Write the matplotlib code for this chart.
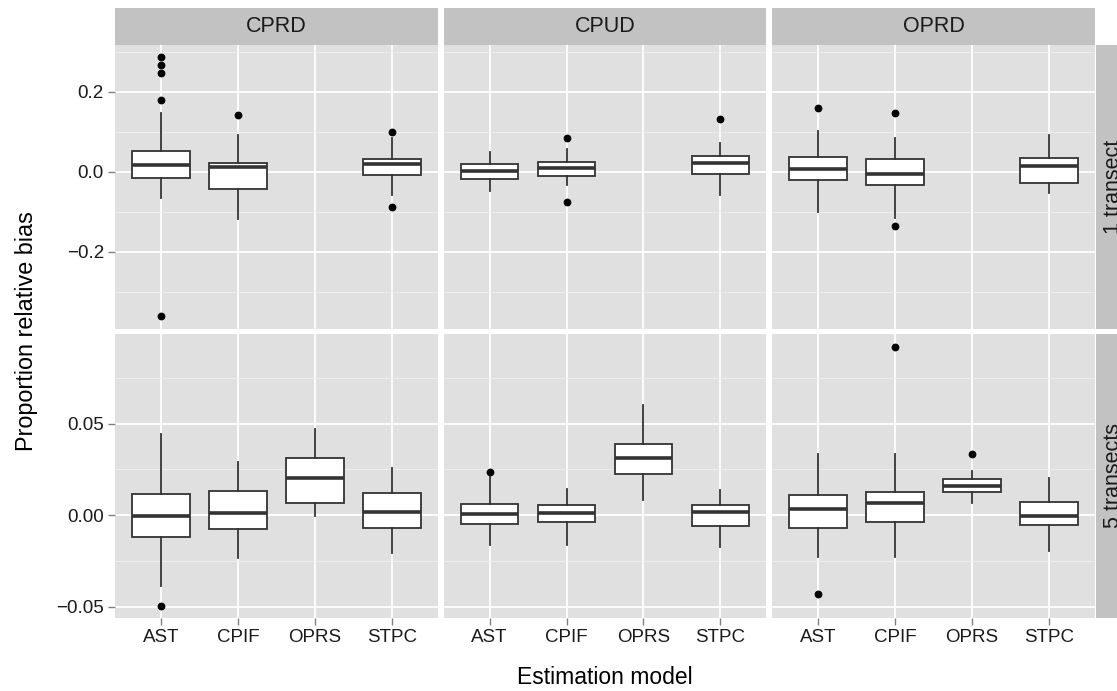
import matplotlib
matplotlib.use("Agg")
import matplotlib.pyplot as plt

plt.rcParams["font.family"] = ["Liberation Sans", "DejaVu Sans"]

MODELS = ["AST", "CPIF", "OPRS", "STPC"]
DESIGNS = ["CPRD", "CPUD", "OPRD"]
ROWS = ["1 transect", "5 transects"]

# 1 transect: one list per design (CPRD, CPUD, OPRD), one value per model; None = no box
q1_1t = [[-0.016, -0.043, None, -0.008], [-0.0175, -0.011, None, -0.006], [-0.020, -0.033, None, -0.027]]
med_1t = [[0.0175, 0.012, None, 0.019], [0.0033, 0.009, None, 0.0225], [0.0083, -0.004, None, 0.016]]
q3_1t = [[0.053, 0.0225, None, 0.033], [0.021, 0.026, None, 0.039], [0.038, 0.0325, None, 0.035]]
lo_1t = [[-0.064, -0.1175, None, -0.0575], [-0.0475, -0.033, None, -0.057], [-0.099, -0.116, None, -0.053]]
hi_1t = [[0.147, 0.0925, None, 0.085], [0.050, 0.058, None, 0.072], [0.103, 0.086, None, 0.092]]
out_1t = [
    [[0.287, 0.268, 0.248, 0.18, -0.359], [0.1425], [], [0.099, -0.0875]],
    [[], [0.084, -0.076], [], [0.1325]],
    [[0.159], [0.148, -0.135], [], []],
]

# 5 transects
q1_5t = [[-0.0118, -0.0073, 0.0065, -0.0069], [-0.0049, -0.0038, 0.0225, -0.0056], [-0.0067, -0.0035, 0.0127, -0.0051]]
med_5t = [[-0.0002, 0.0015, 0.0205, 0.0018], [0.0007, 0.0015, 0.031, 0.0018], [0.0036, 0.0067, 0.0162, -0.0002]]
q3_5t = [[0.0115, 0.0133, 0.0315, 0.012], [0.006, 0.0058, 0.0389, 0.0055], [0.0113, 0.0129, 0.0198, 0.0075]]
lo_5t = [[-0.0385, -0.0235, -0.0004, -0.0204], [-0.0164, -0.0164, 0.0085, -0.0173], [-0.0229, -0.0229, 0.0067, -0.0193]]
hi_5t = [[0.0442, 0.0289, 0.047, 0.0256], [0.021, 0.0145, 0.060, 0.0136], [0.0333, 0.0336, 0.024, 0.0204]]
out_5t = [
    [[-0.0493], [], [], []],
    [[0.0238], [], [], []],
    [[-0.0431], [0.0916], [0.0336], []],
]

ROW_STATS = [
    (q1_1t, med_1t, q3_1t, lo_1t, hi_1t, out_1t),
    (q1_5t, med_5t, q3_5t, lo_5t, hi_5t, out_5t),
]
ROW_YLIM = [(-0.3925, 0.3175), (-0.056, 0.0989)]
ROW_MAJOR = [[-0.2, 0.0, 0.2], [-0.05, 0.0, 0.05]]
ROW_MAJOR_LABELS = [["\u22120.2", "0.0", "0.2"], ["\u22120.05", "0.00", "0.05"]]
ROW_MINOR = [[-0.3, -0.1, 0.1, 0.3], [-0.025, 0.025, 0.075]]

W, H = 1117, 691
PANEL_BG = "#E0E0E0"
STRIP_BG = "#C2C2C2"
BOX_EDGE = "#333333"

panel_left = [115, 443.5, 772]
panel_w = 323
panel_top = [45, 334]
panel_h = 284


def fig_rect(x, y, w, h):
    return [x / W, 1 - (y + h) / H, w / W, h / H]


fig = plt.figure(figsize=(W / 100, H / 100), dpi=100)

for r in range(2):
    q1, med, q3, lo, hi, out = ROW_STATS[r]
    for c in range(3):
        ax = fig.add_axes(fig_rect(panel_left[c], panel_top[r], panel_w, panel_h))
        ax.set_facecolor(PANEL_BG)
        for s in ax.spines.values():
            s.set_visible(False)

        stats = []
        positions = []
        for m in range(len(MODELS)):
            if med[c][m] is None:
                continue
            stats.append({
                "med": med[c][m], "q1": q1[c][m], "q3": q3[c][m],
                "whislo": lo[c][m], "whishi": hi[c][m], "fliers": out[c][m],
            })
            positions.append(m + 1)

        ax.bxp(
            stats, positions=positions, widths=0.75, patch_artist=True,
            showcaps=False, manage_ticks=False,
            boxprops=dict(facecolor="white", edgecolor=BOX_EDGE, linewidth=1.3),
            medianprops=dict(color=BOX_EDGE, linewidth=2.6, solid_capstyle="butt"),
            whiskerprops=dict(color=BOX_EDGE, linewidth=1.3),
            flierprops=dict(marker="o", markerfacecolor="black", markeredgecolor="black",
                            markersize=4.6, linestyle="none"),
            zorder=3,
        )

        ax.set_xlim(0.4, 4.6)
        ax.set_ylim(*ROW_YLIM[r])
        ax.set_xticks(range(1, len(MODELS) + 1))
        ax.set_yticks(ROW_MAJOR[r])
        ax.set_yticks(ROW_MINOR[r], minor=True)
        ax.grid(which="major", color="white", linewidth=1.3, zorder=0)
        ax.grid(which="minor", axis="y", color="#F0F0F0", linewidth=0.6, zorder=0)
        ax.set_axisbelow(True)
        ax.tick_params(which="minor", length=0)
        ax.tick_params(which="major", length=5, width=1.0, color="#808080",
                       labelsize=13.5, labelcolor="#1A1A1A", pad=3)

        if c == 0:
            ax.set_yticklabels(ROW_MAJOR_LABELS[r])
        else:
            ax.tick_params(axis="y", length=0, labelleft=False)
        if r == 1:
            ax.set_xticklabels(MODELS)
        else:
            ax.tick_params(axis="x", length=0, labelbottom=False)

        if r == 0:
            sax = fig.add_axes(fig_rect(panel_left[c], 8, panel_w, 36.5))
            sax.set_facecolor(STRIP_BG)
            sax.set_xticks([])
            sax.set_yticks([])
            for s in sax.spines.values():
                s.set_visible(False)
            sax.text(0.5, 0.5, DESIGNS[c], ha="center", va="center", fontsize=15.5,
                     color="#1A1A1A", transform=sax.transAxes)

    # right strip, cut by the figure edge as in the source
    rax = fig.add_axes(fig_rect(1095.5, panel_top[r], 36.5, panel_h))
    rax.set_facecolor(STRIP_BG)
    rax.set_xticks([])
    rax.set_yticks([])
    for s in rax.spines.values():
        s.set_visible(False)
    rax.text(0.5, 0.5, ROWS[r], ha="center", va="center", rotation=90, fontsize=15.5,
             color="#1A1A1A", transform=rax.transAxes)

fig.text(27 / W, 1 - 331 / H, "Proportion relative bias", rotation=90, ha="center",
         va="center", fontsize=16.8, color="black")
fig.text(605 / W, 1 - 678 / H, "Estimation model", ha="center", va="center",
         fontsize=16.5, color="black")

fig.savefig("out.png", dpi=100)
